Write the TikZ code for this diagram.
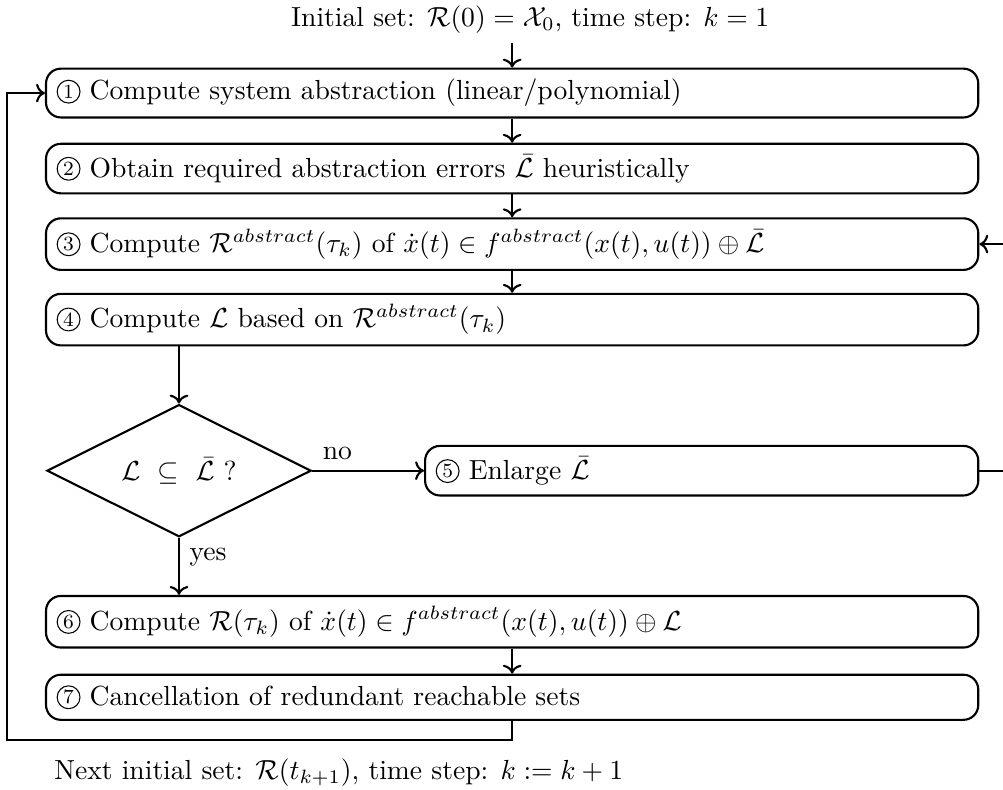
\RequirePackage{fix-cm}
\documentclass[10pt,tikz,border=0pt]{standalone}
\usepackage{amsmath,amssymb}
\usepackage{tikz}
\usetikzlibrary{arrows.meta,positioning,shapes.geometric}
\tikzset{
  stepbox/.style = {rectangle, rounded corners=5.6pt, draw, thick,
                    inner sep=4pt, text width=343.2pt, align=left},
  shortbox/.style = {stepbox, text width=200.4pt},
  cond/.style    = {diamond, aspect=2, draw, thick, minimum width=3.5cm,
                    minimum height=1.75cm, align=center},
  txt/.style     = {align=left},
  lbl/.style     = {inner sep=3.6pt},
  arr/.style     = {->, thick},
  numcirc/.style = {circle, draw, thin, inner sep=0pt, minimum size=8.6pt,
                    font=\fontsize{7.6}{8}\selectfont},
}
\newcommand{\stepno}[1]{\tikz[baseline={([yshift=-0.6pt]c.base)}]
  \node[numcirc] (c) {#1};}

\begin{document}
\begin{tikzpicture}[node distance=1cm, on grid,
                    font=\fontsize{10.4}{12.5}\selectfont]
\useasboundingbox (0,0) rectangle (13.28,-10.45);

% main steps
\node[stepbox] (s1) at (6.781,-1.232)
   {\stepno{1} Compute system abstraction (linear/polynomial)};
\node[txt, above=1cm of s1, xshift=0.24cm, yshift=-0.03cm] (init)
   {Initial set: $\mathcal{R}(0)=\mathcal{X}_0$, time step: $k=1$};
\draw[arr] (init.south -| s1.north) -- (s1.north);

\node[stepbox, below=of s1] (s2)
   {\stepno{2} Obtain required abstraction errors $\bar{\mathcal{L}}$ heuristically};
\draw[arr] (s1) -- (s2);

\node[stepbox, below=of s2] (s3)
   {\stepno{3} Compute $\mathcal{R}^{abstract}(\tau_k)$ of
    $\dot{x}(t)\in f^{abstract}(x(t),u(t))\oplus\bar{\mathcal{L}}$};
\draw[arr] (s2) -- (s3);

\node[stepbox, below=of s3] (s4)
   {\stepno{4} Compute $\mathcal{L}$ based on $\mathcal{R}^{abstract}(\tau_k)$};
\draw[arr] (s3) -- (s4);

% check of the error bound
\node[cond, below=2cm of s4.west, xshift=1.775cm, anchor=center] (chk)
   {$\mathcal{L}~\subseteq~\bar{\mathcal{L}}$~?};
\draw[arr] (s4.south -| chk.north) -- (chk.north);

\node[shortbox, anchor=east] (s5) at (chk -| s4.east)
   {\stepno{5} Enlarge $\bar{\mathcal{L}}$};
\draw[arr] (chk) -- node[lbl, above right, pos=0] {no} (s5);
\draw[arr] (s5.east) -- ++(0.5,0) |- (s3.east);

\node[stepbox, below=4cm of s4] (s6)
   {\stepno{6} Compute $\mathcal{R}(\tau_k)$ of
    $\dot{x}(t)\in f^{abstract}(x(t),u(t))\oplus\mathcal{L}$};
\draw[arr] (chk.south) -- node[lbl, below right, pos=0] {yes}
   (chk.south |- s6.north);

\node[stepbox, below=of s6] (s7)
   {\stepno{7} Cancellation of redundant reachable sets};
\draw[arr] (s6) -- (s7);

% next time step
\node[txt, below=1cm of s7.west, anchor=west] (next)
   {Next initial set: $\mathcal{R}(t_{k+1})$, time step: $k:=k+1$};
\draw[arr] (s7.south) -- ++(0,-0.25) -| ([xshift=-0.5cm]s1.west) -- (s1.west);

\end{tikzpicture}
\end{document}
